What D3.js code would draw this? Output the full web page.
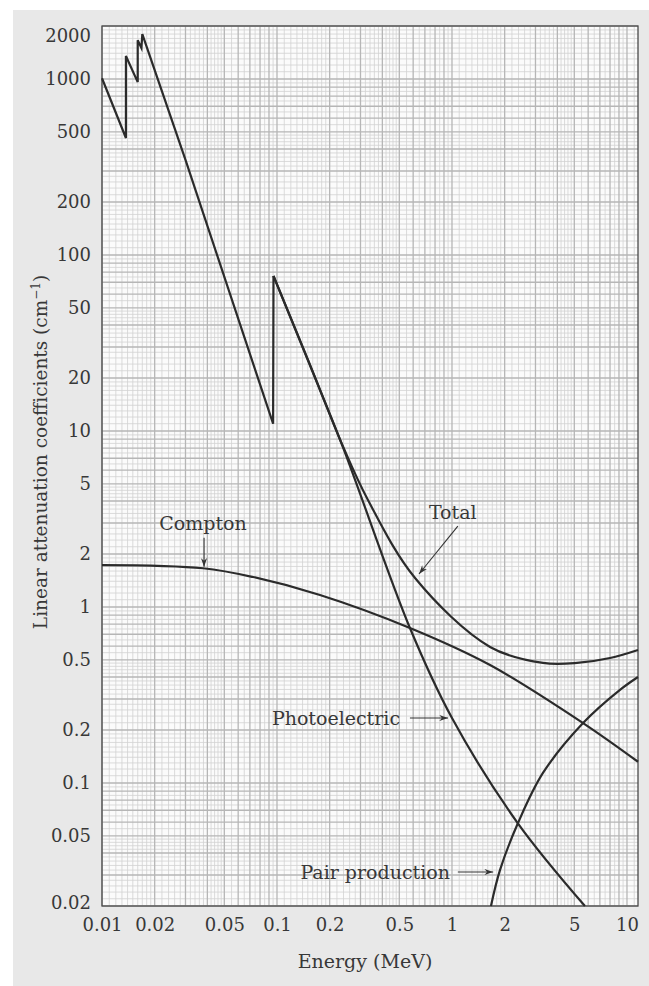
<!DOCTYPE html>
<html>
<head>
<meta charset="utf-8">
<script src="https://cdn.jsdelivr.net/npm/d3@7"></script>
<style>
  html, body { margin: 0; padding: 0; background: #fff; }
  svg { display: block; }
</style>
</head>
<body>
<div id="chart"></div>
<script>
// [energy (MeV), linear attenuation coefficient (cm^-1)]

// photoelectric-dominated part of the total, with the L and K absorption edges
const totalEdges = [
  [0.01, 1010], [0.0137, 462], [0.0137, 1350], [0.0160, 960], [0.0160, 1660],
  [0.0168, 1500], [0.0170, 1800], [0.0300, 347], [0.0950, 11.0], [0.0955, 76]
];
const totalHigh = [
  [0.0955, 76], [0.150, 25.5], [0.238, 8.2], [0.331, 4.05], [0.615, 1.46],
  [1.65, 0.593], [3.31, 0.481], [5.18, 0.481], [8.0, 0.513], [11.56, 0.57]
];
const photoelectric = [
  [0.0955, 76], [0.150, 25.3], [0.238, 8.1], [0.575, 0.76], [1.0, 0.234],
  [2.38, 0.059], [5.75, 0.02]
];
const compton = [
  [0.01, 1.73], [0.0378, 1.66], [0.0729, 1.48], [0.176, 1.17], [0.575, 0.76],
  [1.65, 0.468], [5.61, 0.219], [11.56, 0.132]
];
const pairProduction = [
  [1.67, 0.02], [1.88, 0.032], [2.38, 0.059], [3.31, 0.114], [5.61, 0.219],
  [9.12, 0.338], [11.56, 0.40]
];

const xTicks = [0.01, 0.02, 0.05, 0.1, 0.2, 0.5, 1, 2, 5, 10];
const yTicks = [0.02, 0.05, 0.1, 0.2, 0.5, 1, 2, 5, 10, 20, 50, 100, 200, 500, 1000, 2000];

// annotation text and arrows, placed in data units
const labels = [
  { text: 'Compton', E: 0.0378, mu: 3.0, anchor: 'middle' },
  { text: 'Total', E: 1.01, mu: 3.47, anchor: 'middle' },
  { text: 'Photoelectric', E: 0.505, mu: 0.234, anchor: 'end' },
  { text: 'Pair production', E: 0.974, mu: 0.0312, anchor: 'end' }
];
const arrows = [
  { from: [0.0383, 2.47], to: [0.0383, 1.69] },
  { from: [1.08, 2.88], to: [0.648, 1.54] },
  { from: [0.575, 0.234], to: [0.949, 0.234] },
  { from: [1.08, 0.0312], to: [1.72, 0.0312] }
];

const width = 649, height = 986;
const plot = { left: 102, right: 638, top: 26, bottom: 906 };
const font = '"DejaVu Serif", "Liberation Serif", serif';
const ink = '#2b2b2b';
const textInk = '#383838';

const x = d3.scaleLog().domain([0.01, 11.56]).range([plot.left, plot.right]);
const y = d3.scaleLog().domain([0.02, 2000]).range([plot.bottom, plot.top]);

const svg = d3.select('#chart').append('svg')
    .attr('width', width)
    .attr('height', height);

// paper background
svg.append('rect')
    .attr('x', 13).attr('y', 10)
    .attr('width', width - 13).attr('height', height - 10)
    .attr('fill', '#e8e8e8');

svg.append('rect')
    .attr('x', plot.left).attr('y', plot.top)
    .attr('width', plot.right - plot.left).attr('height', plot.bottom - plot.top)
    .attr('fill', '#fbfbfb');

// log graph paper rulings: 1-2 by 0.1, 2-5 by 0.2, 5-10 by 0.5
function rulings(lo, hi) {
    const minor = [], major = [];
    for (let e = Math.floor(Math.log10(lo)); e <= Math.ceil(Math.log10(hi)); e++) {
        const d = Math.pow(10, e);
        for (let m = 10; m < 100; m += (m < 20 ? 1 : m < 50 ? 2 : 5)) {
            const v = m / 10 * d;
            if (v >= lo * 0.999 && v <= hi * 1.001) {
                (m % 10 === 0 ? major : minor).push(v);
            }
        }
    }
    return { minor, major };
}

const gx = rulings(0.01, 11.56);
const gy = rulings(0.02, 2000);
const grid = svg.append('g');

[['minor', '#d2d2d2', 0.8], ['major', '#b6b6b6', 1.3]].forEach(([k, color, w]) => {
    grid.append('g').selectAll('line')
        .data(gx[k])
        .join('line')
        .attr('x1', d => x(d)).attr('x2', d => x(d))
        .attr('y1', plot.top).attr('y2', plot.bottom)
        .attr('stroke', color).attr('stroke-width', w);
    grid.append('g').selectAll('line')
        .data(gy[k])
        .join('line')
        .attr('y1', d => y(d)).attr('y2', d => y(d))
        .attr('x1', plot.left).attr('x2', plot.right)
        .attr('stroke', color).attr('stroke-width', w);
});

svg.append('rect')
    .attr('x', plot.left).attr('y', plot.top)
    .attr('width', plot.right - plot.left).attr('height', plot.bottom - plot.top)
    .attr('fill', 'none')
    .attr('stroke', '#4a4a4a')
    .attr('stroke-width', 1.3);

// axes (labels only, the rulings act as ticks)
const xAxis = d3.axisBottom(x).tickValues(xTicks).tickSize(0).tickPadding(12)
    .tickFormat(d => String(d));
svg.append('g')
    .attr('transform', `translate(0, ${plot.bottom})`)
    .call(xAxis)
    .call(g => g.select('.domain').remove())
    .call(g => g.selectAll('text')
        .attr('font-family', font).attr('font-size', 18).attr('fill', textInk));

const yAxis = d3.axisLeft(y).tickValues(yTicks).tickSize(0).tickPadding(11)
    .tickFormat(d => String(d));
svg.append('g')
    .attr('transform', `translate(${plot.left}, 0)`)
    .call(yAxis)
    .call(g => g.select('.domain').remove())
    .call(g => g.selectAll('text')
        .attr('font-family', font).attr('font-size', 18).attr('fill', textInk)
        .attr('dy', d => d === 2000 ? '0.85em' : d === 0.02 ? '0.15em' : '0.32em'));

svg.append('text')
    .attr('x', (plot.left + plot.right) / 2 - 5)
    .attr('y', 968)
    .attr('text-anchor', 'middle')
    .attr('font-family', font).attr('font-size', 19).attr('fill', textInk)
    .text('Energy (MeV)');

const yLabel = svg.append('text')
    .attr('transform', 'translate(47, 452) rotate(-90)')
    .attr('text-anchor', 'middle')
    .attr('font-family', font).attr('font-size', 18.5).attr('fill', textInk);
yLabel.append('tspan').text('Linear attenuation coefficients (cm');
yLabel.append('tspan').attr('font-size', 12).attr('dy', -7).text('\u22121');
yLabel.append('tspan').attr('dy', 7).text(')');

// curves
const linear = d3.line().x(d => x(d[0])).y(d => y(d[1]));
const smooth = d3.line().x(d => x(d[0])).y(d => y(d[1])).curve(d3.curveCatmullRom.alpha(0.5));

const curves = svg.append('g')
    .attr('fill', 'none')
    .attr('stroke', ink)
    .attr('stroke-width', 2.2)
    .attr('stroke-linejoin', 'miter');

curves.append('path').attr('d', linear(totalEdges));
curves.append('path').attr('d', smooth(totalHigh));
curves.append('path').attr('d', smooth(photoelectric));
curves.append('path').attr('d', smooth(compton));
curves.append('path').attr('d', smooth(pairProduction));

// annotations
svg.append('defs').append('marker')
    .attr('id', 'arrow')
    .attr('viewBox', '0 -4 10 8')
    .attr('refX', 10).attr('refY', 0)
    .attr('markerWidth', 9).attr('markerHeight', 7)
    .attr('markerUnits', 'userSpaceOnUse')
    .attr('orient', 'auto')
    .append('path')
    .attr('d', 'M0,-3.5L10,0L0,3.5L3,0Z')
    .attr('fill', '#333');

svg.append('g').selectAll('line')
    .data(arrows)
    .join('line')
    .attr('x1', d => x(d.from[0])).attr('y1', d => y(d.from[1]))
    .attr('x2', d => x(d.to[0])).attr('y2', d => y(d.to[1]))
    .attr('stroke', '#333').attr('stroke-width', 1.1)
    .attr('marker-end', 'url(#arrow)');

svg.append('g').selectAll('text')
    .data(labels)
    .join('text')
    .attr('x', d => x(d.E)).attr('y', d => y(d.mu))
    .attr('dy', '0.35em')
    .attr('text-anchor', d => d.anchor)
    .attr('font-family', font).attr('font-size', 19).attr('fill', textInk)
    .text(d => d.text);
</script>
</body>
</html>
